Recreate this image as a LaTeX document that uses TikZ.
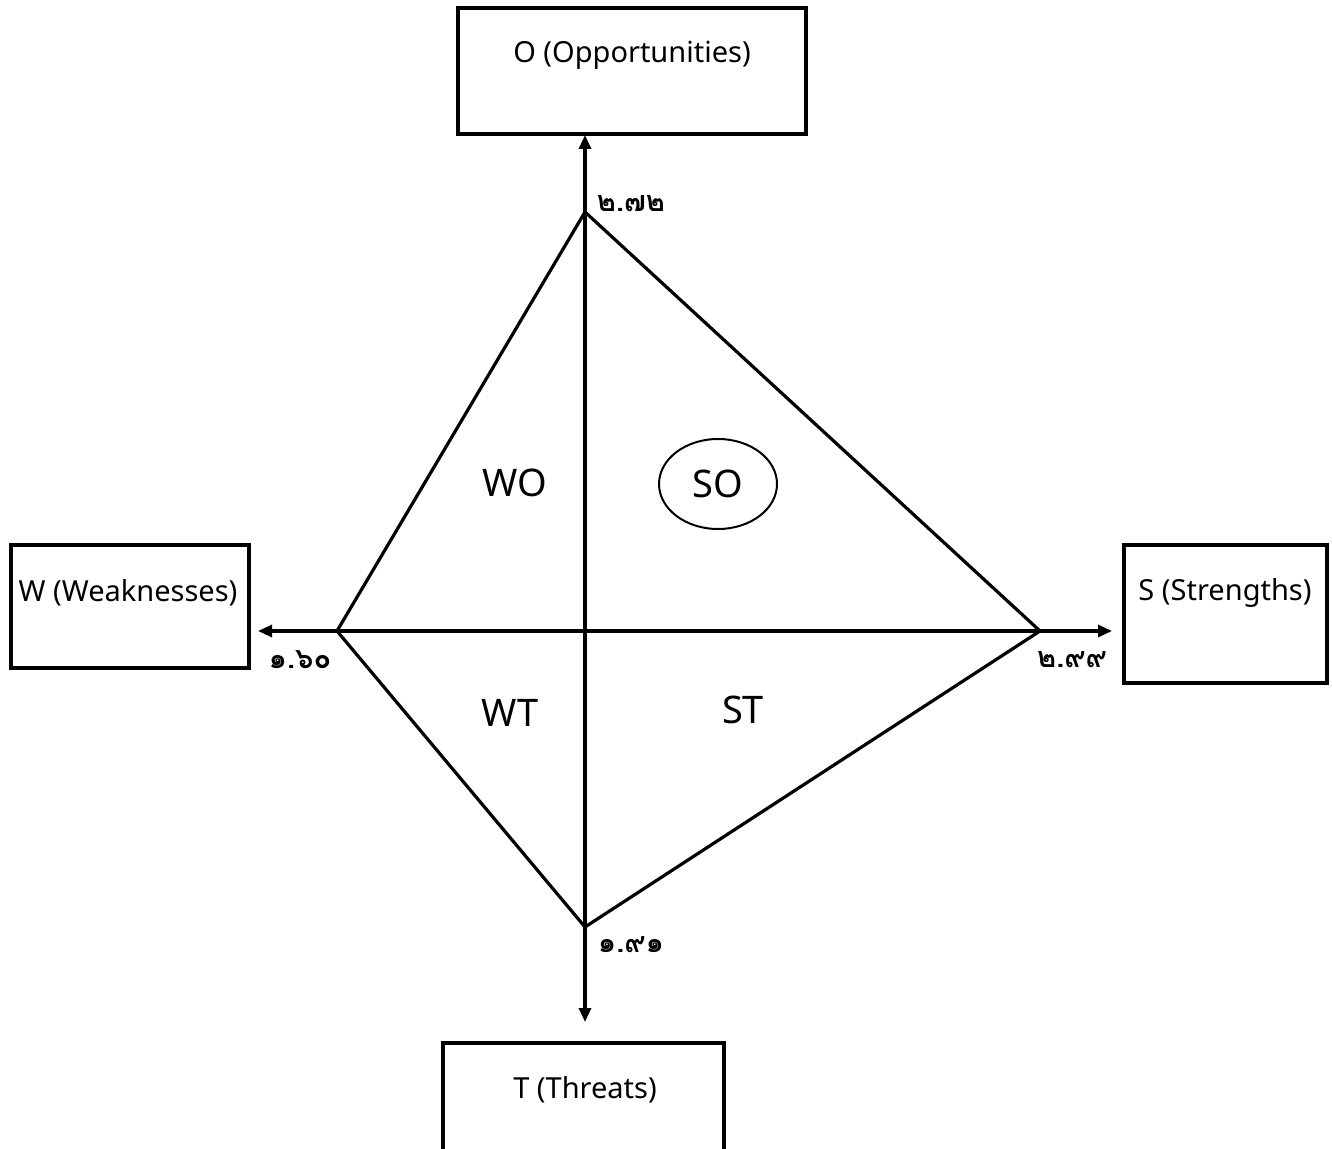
\documentclass[tikz,border=0pt]{standalone}
\usepackage{fontspec}
\setmainfont{Noto Sans}
\newfontfamily\thaifont[Script=Thai]{Loma}
\usetikzlibrary{arrows.meta,shapes.geometric}
\begin{document}
\begin{tikzpicture}[x=0.5pt,y=-0.5pt,
  box/.style={draw,line width=1.9pt,rectangle,inner sep=0pt},
  boxtext/.style={font=\fontsize{14.5}{16}\selectfont,inner sep=0pt},
  quad/.style={font=\fontsize{19}{22}\selectfont,inner sep=0pt},
  num/.style={font=\thaifont\bfseries\fontsize{14.5}{16}\selectfont,inner sep=0pt},
  axis/.style={line width=1.6pt,{Triangle[length=7pt,width=6pt]}-{Triangle[length=7pt,width=6pt]}},
  edge/.style={line width=1.6pt,line join=miter}]
\useasboundingbox (0,0) rectangle (1332,1149);
\begin{scope}
\clip (0,0) rectangle (1332,1149);
% boxes
\node[box,minimum width=348*0.5pt,minimum height=126*0.5pt] (O) at (632,71) {};
\node[box,minimum width=238*0.5pt,minimum height=123*0.5pt] (W) at (130,606.5) {};
\node[box,minimum width=203*0.5pt,minimum height=138*0.5pt] (S) at (1225.5,614) {};
\node[box,minimum width=281*0.5pt,minimum height=140*0.5pt] (T) at (583.5,1113) {};
\end{scope}
\node[boxtext] (Ot) at (632,55) {O (Opportunities)};
\node[boxtext] (Wt) at (128,593) {W (Weaknesses)};
\node[boxtext] (St) at (1225,593) {S (Strengths)};
\node[boxtext] (Tt) at (585,1090) {T (Threats)};
% axes
\coordinate (up) at (585,135);
\coordinate (dn) at (585,1022);
\coordinate (lt) at (258,631);
\coordinate (rt) at (1112,631);
\draw[axis] (dn) -- (up);
\draw[axis] (lt) -- (rt);
% diamond
\coordinate (dT) at (585,212);
\coordinate (dR) at (1040,631);
\coordinate (dB) at (585,927);
\coordinate (dL) at (337,631);
\draw[edge] (dT) -- (dR) -- (dB) -- (dL) -- cycle;
% quadrant labels
\node[quad] (WO) at (515,483) {WO};
\node[quad,draw,line width=1pt,ellipse,minimum width=118*0.5pt,minimum height=90*0.5pt] (SO) at (718,484) {SO};
\node[quad] (WT) at (510,713) {WT};
\node[quad] (ST) at (743,710) {ST};
% values
\node[num] (n1) at (631,204) {๒.๗๒};
\node[num] (n2) at (300,660) {๑.๖๐};
\node[num] (n3) at (1072,660) {๒.๙๙};
\node[num] (n4) at (631,945) {๑.๙๑};
\end{tikzpicture}
\end{document}
